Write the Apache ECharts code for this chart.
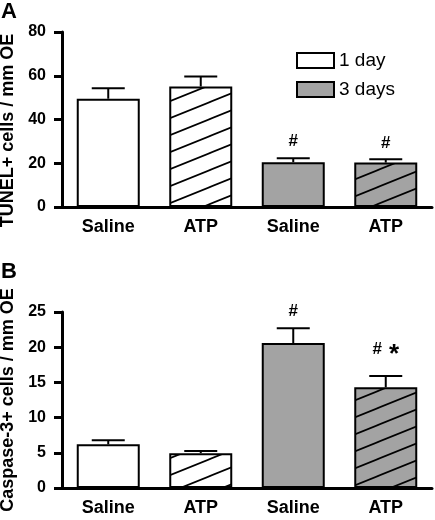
<!DOCTYPE html>
<html>
<head>
<meta charset="utf-8">
<script src="https://cdn.jsdelivr.net/npm/echarts@6/dist/echarts.min.js"></script>
<style>
html,body{margin:0;padding:0;background:#fff;}
#chart{width:435px;height:520px;}
</style>
</head>
<body>
<div id="chart"></div>
<script>
// ---- data ----
const categories = ['Saline', 'ATP', 'Saline', 'ATP'];
const groups = ['1 day', '1 day', '3 days', '3 days'];
const hatched = [false, true, false, true];
const legendNames = ['1 day', '3 days'];

const tunelMean = [49.5, 55.1, 20.5, 20.3];
const tunelSem = [4.8, 4.6, 1.8, 1.5];
const tunelMarks = ['', '', '#', '#'];

const caspMean = [6.2, 4.95, 20.6, 14.3];
const caspSem = [0.6, 0.3, 2.1, 1.6];
const caspMarks = ['', '', '#', '# *'];

const yAxisA = { min: 0, max: 80, interval: 20, title: 'TUNEL+ cells / mm OE' };
const yAxisB = { min: 0, max: 25, interval: 5, title: 'Caspase-3+ cells / mm OE' };

// ---- styles ----
const GRAY = '#a3a3a3';
const FONT = '"Liberation Sans", Arial, Helvetica, sans-serif';

function makeHatch(bg) {
  const W = 42, H = 17;
  const c = document.createElement('canvas');
  c.width = W; c.height = H;
  const ctx = c.getContext('2d');
  ctx.fillStyle = bg;
  ctx.fillRect(0, 0, W, H);
  ctx.strokeStyle = '#000';
  ctx.lineWidth = 1.7;
  [0, H, 2 * H].forEach(function (y0) {
    ctx.beginPath();
    ctx.moveTo(-W, y0 + H);
    ctx.lineTo(2 * W, y0 - 2 * H);
    ctx.stroke();
  });
  return { image: c, repeat: 'repeat' };
}
const hatchWhite = makeHatch('#ffffff');
const hatchGray = makeHatch(GRAY);
const groupColor = { '1 day': '#ffffff', '3 days': GRAY };
const groupHatch = { '1 day': hatchWhite, '3 days': hatchGray };

function barSeries(name, means, gridIdx) {
  return {
    type: 'bar',
    name: name,
    xAxisIndex: gridIdx,
    yAxisIndex: gridIdx,
    barWidth: 63,
    barGap: '-100%',
    itemStyle: { color: groupColor[name], borderColor: '#000', borderWidth: 2 },
    data: means.map(function (v, i) {
      if (groups[i] !== name) return '-';
      if (hatched[i]) return { value: v, itemStyle: { color: groupHatch[name] } };
      return v;
    }),
    z: 2
  };
}

function errSeries(means, sems, marks, gridIdx) {
  return {
    type: 'custom',
    xAxisIndex: gridIdx,
    yAxisIndex: gridIdx,
    z: 5,
    data: means.map(function (m, i) { return [i, m, sems[i]]; }),
    renderItem: function (params, api) {
      const i = api.value(0), m = api.value(1), s = api.value(2);
      const base = api.coord([i, m]);
      const top = api.coord([i, m + s]);
      const hw = 16.5;
      const children = [
        { type: 'line', shape: { x1: base[0], y1: base[1], x2: top[0], y2: top[1] },
          style: { stroke: '#000', lineWidth: 2 } },
        { type: 'line', shape: { x1: top[0] - hw, y1: top[1], x2: top[0] + hw, y2: top[1] },
          style: { stroke: '#000', lineWidth: 2 } }
      ];
      const mk = marks[params.dataIndex];
      if (mk) {
        const parts = mk.split(' ');
        let txt = '{h|' + parts[0] + '}';
        if (parts.length > 1) txt += '{st|' + parts[1] + '}';
        children.push({
          type: 'text',
          x: top[0], y: top[1] - 8,
          style: {
            text: txt,
            align: 'center', verticalAlign: 'bottom',
            rich: {
              h: { fontFamily: FONT, fontWeight: 'bold', fontSize: 17, fill: '#000' },
              st: { fontFamily: FONT, fontWeight: 'bold', fontSize: 26, fill: '#000', padding: [12, 0, 0, 7] }
            }
          }
        });
      }
      return { type: 'group', children: children };
    }
  };
}

function xAxisDef(gridIdx) {
  return {
    type: 'category',
    gridIndex: gridIdx,
    data: categories,
    axisLine: { lineStyle: { color: '#000', width: 3 } },
    axisTick: { alignWithLabel: true, length: 6, lineStyle: { color: '#000', width: 3 } },
    axisLabel: { color: '#000', fontFamily: FONT, fontWeight: 'bold', fontSize: 18, margin: 11 },
    splitLine: { show: false }
  };
}
function yAxisDef(gridIdx, ax, pad) {
  return {
    type: 'value',
    gridIndex: gridIdx,
    min: ax.min, max: ax.max, interval: ax.interval,
    name: ax.title,
    nameLocation: 'middle',
    nameGap: 42,
    nameRotate: 90,
    nameTextStyle: { color: '#000', fontFamily: FONT, fontWeight: 'bold', fontSize: 18, padding: pad },
    axisLine: { show: true, lineStyle: { color: '#000', width: 3 } },
    axisTick: { show: true, length: 8, lineStyle: { color: '#000', width: 3 } },
    axisLabel: { color: '#000', fontFamily: FONT, fontWeight: 'bold', fontSize: 16, margin: 16 },
    splitLine: { show: false }
  };
}

const chart = echarts.init(document.getElementById('chart'), null, { renderer: 'canvas' });
chart.setOption({
  animation: false,
  backgroundColor: '#fff',
  title: [
    { text: 'A', left: 1, top: 1, padding: 0, textStyle: { fontFamily: FONT, fontWeight: 'bold', fontSize: 22, color: '#000' } },
    { text: 'B', left: 1, top: 261, padding: 0, textStyle: { fontFamily: FONT, fontWeight: 'bold', fontSize: 22, color: '#000' } }
  ],
  legend: {
    data: legendNames,
    orient: 'vertical',
    left: 296, top: 51,
    padding: 0,
    itemWidth: 37, itemHeight: 15, itemGap: 10,
    icon: 'rect',
    itemStyle: { borderColor: '#000', borderWidth: 2 },
    textStyle: { color: '#000', fontFamily: FONT, fontSize: 19 },
    selectedMode: false
  },
  grid: [
    { left: 62, right: 3, top: 32, height: 175, outerBoundsMode: 'none' },
    { left: 62, right: 3, top: 312, height: 176, outerBoundsMode: 'none' }
  ],
  xAxis: [xAxisDef(0), xAxisDef(1)],
  yAxis: [yAxisDef(0, yAxisA, [0, 22, 0, 0]), yAxisDef(1, yAxisB, 0)],
  series: [
    barSeries('1 day', tunelMean, 0),
    barSeries('3 days', tunelMean, 0),
    errSeries(tunelMean, tunelSem, tunelMarks, 0),
    barSeries('1 day', caspMean, 1),
    barSeries('3 days', caspMean, 1),
    errSeries(caspMean, caspSem, caspMarks, 1)
  ]
});
</script>
</body>
</html>
